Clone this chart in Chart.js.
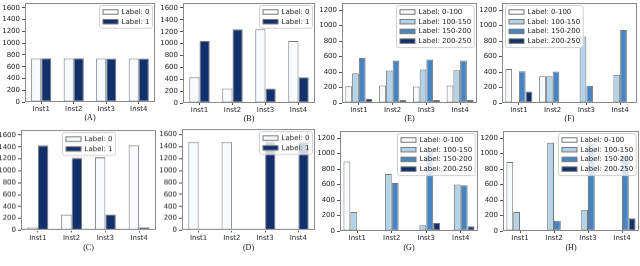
<!DOCTYPE html>
<html>
<head>
<meta charset="utf-8">
<script src="https://cdn.jsdelivr.net/npm/chart.js@4.4.1/dist/chart.umd.min.js"></script>
<style>
  html, body { margin: 0; padding: 0; background: #fff; width: 640px; height: 266px; overflow: hidden; }
  body { position: relative; }
  canvas { position: absolute; }
</style>
</head>
<body>
<script>
// categories and legend names
const instNames = ['Inst1', 'Inst2', 'Inst3', 'Inst4'];
const binaryLabels = ['Label: 0', 'Label: 1'];
const rangeLabels = ['Label: 0-100', 'Label: 100-150', 'Label: 150-200', 'Label: 200-250'];

// (A)
const aLabel0 = [740, 740, 740, 740];
const aLabel1 = [745, 745, 740, 738];
// (B)
const bLabel0 = [435, 245, 1240, 1045];
const bLabel1 = [1045, 1240, 245, 435];
// (C)
const cLabel0 = [50, 265, 1225, 1425];
const cLabel1 = [1425, 1220, 265, 50];
// (D)
const dLabel0 = [1480, 1480, 0, 0];
const dLabel1 = [0, 0, 1480, 1480];
// (E)
const eRange0 = [218, 227, 214, 227];
const eRange1 = [385, 420, 432, 424];
const eRange2 = [582, 548, 561, 548];
const eRange3 = [51, 38, 38, 38];
// (F)
const fRange0 = [441, 347, 0, 0];
const fRange1 = [0, 347, 860, 364];
const fRange2 = [412, 407, 223, 943];
const fRange3 = [150, 0, 0, 0];
// (G)
const gRange0 = [897, 0, 0, 0];
const gRange1 = [245, 737, 73, 600];
const gRange2 = [0, 621, 1030, 591];
const gRange3 = [0, 0, 103, 60];
// (H)
const hRange0 = [892, 0, 0, 0];
const hRange1 = [245, 1142, 276, 0];
const hRange2 = [0, 134, 1130, 975];
const hRange3 = [0, 0, 0, 164];

const binaryColors = ['#f7fbff', '#12306b'];
const rangeColors = ['#f7fbff', '#b3d3e9', '#4784c2', '#12306b'];
const edgeColor = '#777777';

const tickFont = { family: '"DejaVu Sans"', size: 7 };
const capFont = { family: '"Liberation Serif"', size: 8 };
const yAxisW = 30;
const padTop = 6;
const padRight = 3;

// plot-area boxes: [left, top, right, bottom] in page pixels
const panels = [
  { cap: '(A)', series: [aLabel0, aLabel1], names: binaryLabels, colors: binaryColors, yMax: 1680, box: [25, 3, 155, 102], legend: 'right', capGap: 16 },
  { cap: '(B)', series: [bLabel0, bLabel1], names: binaryLabels, colors: binaryColors, yMax: 1680, box: [183, 3, 315, 103], legend: 'right', capGap: 16 },
  { cap: '(E)', series: [eRange0, eRange1, eRange2, eRange3], names: rangeLabels, colors: rangeColors, yMax: 1290, box: [342, 3, 477, 103], legend: 'right', capGap: 16 },
  { cap: '(F)', series: [fRange0, fRange1, fRange2, fRange3], names: rangeLabels, colors: rangeColors, yMax: 1290, box: [502, 3, 637, 103], legend: 'left', capGap: 16 },
  { cap: '(C)', series: [cLabel0, cLabel1], names: binaryLabels, colors: binaryColors, yMax: 1680, box: [21, 130, 156, 230], legend: 'center', capGap: 17.5 },
  { cap: '(D)', series: [dLabel0, dLabel1], names: binaryLabels, colors: binaryColors, yMax: 1690, box: [182, 129, 315, 230], legend: 'right', capGap: 17.5 },
  { cap: '(G)', series: [gRange0, gRange1, gRange2, gRange3], names: rangeLabels, colors: rangeColors, yMax: 1290, box: [340, 131, 478, 231], legend: 'right', capGap: 17 },
  { cap: '(H)', series: [hRange0, hRange1, hRange2, hRange3], names: rangeLabels, colors: rangeColors, yMax: 1290, box: [503, 131, 639, 231], legend: 'right', capGap: 17 },
];

// frame around the plot area plus a matplotlib-style legend box inside it
const boxLegend = {
  id: 'boxLegend',
  afterDatasetsDraw(chart, args, opts) {
    const ctx = chart.ctx;
    const a = chart.chartArea;
    ctx.save();
    ctx.strokeStyle = '#8a8a8a';
    ctx.lineWidth = 1;
    ctx.strokeRect(Math.round(a.left) + 0.5, Math.round(a.top) + 0.5,
      Math.round(a.right - a.left) - 1, Math.round(a.bottom - a.top) - 1);

    ctx.font = '7px "DejaVu Sans"';
    const items = chart.data.datasets;
    const rowH = 9.7, handleW = 15, handleH = 4.5;
    const textW = Math.max(...items.map((d) => ctx.measureText(d.label).width));
    const w = 3.5 + handleW + 3.5 + textW + 3;
    const h = 13 + (items.length - 1) * rowH;
    let x;
    if (opts.corner === 'left') x = a.left + 3;
    else if (opts.corner === 'center') x = (a.left + a.right) / 2 - w / 2;
    else x = a.right - 3 - w;
    x = Math.round(x) + 0.5;
    const y = Math.round(a.top + 2) + 0.5;
    ctx.fillStyle = 'rgba(255,255,255,0.8)';
    ctx.strokeStyle = '#d0d0d0';
    ctx.beginPath();
    ctx.roundRect(x, y, w, h, 2);
    ctx.fill();
    ctx.stroke();
    ctx.textBaseline = 'middle';
    items.forEach((d, i) => {
      const cy = y + 6.5 + i * rowH;
      ctx.fillStyle = d.backgroundColor;
      ctx.strokeStyle = d.borderColor;
      ctx.fillRect(x + 3.5, cy - handleH / 2, handleW, handleH);
      ctx.strokeRect(x + 3.5, cy - handleH / 2, handleW, handleH);
      ctx.fillStyle = '#222';
      ctx.fillText(d.label, x + 3.5 + handleW + 3.5, cy);
    });
    ctx.restore();
  },
};

panels.forEach((p) => {
  const [left, top, right, bottom] = p.box;
  const xAxisH = p.capGap + 5;
  const canvas = document.createElement('canvas');
  const cw = right - left + yAxisW + padRight;
  const ch = bottom - top + padTop + xAxisH;
  canvas.width = cw;
  canvas.height = ch;
  canvas.style.width = cw + 'px';
  canvas.style.height = ch + 'px';
  canvas.style.left = (left - yAxisW) + 'px';
  canvas.style.top = (top - padTop) + 'px';
  document.body.appendChild(canvas);

  const wide = p.series.length > 2;
  new Chart(canvas.getContext('2d'), {
    type: 'bar',
    data: {
      labels: instNames,
      datasets: p.series.map((vals, i) => ({
        label: p.names[i],
        data: vals,
        backgroundColor: p.colors[i],
        borderColor: edgeColor,
        borderWidth: 1,
        borderSkipped: false,
        categoryPercentage: wide ? 0.8 : 0.62,
        barPercentage: 1,
      })),
    },
    options: {
      responsive: false,
      animation: false,
      devicePixelRatio: 1,
      layout: { padding: { top: padTop, right: padRight, left: 0, bottom: 0 } },
      plugins: {
        legend: { display: false },
        tooltip: { enabled: false },
        boxLegend: { corner: p.legend },
      },
      scales: {
        x: {
          grid: { display: true, drawOnChartArea: false, offset: false, tickLength: 2, color: '#555' },
          border: { display: false },
          ticks: { font: tickFont, color: '#222', padding: 1, maxRotation: 0 },
          title: { display: true, text: p.cap, font: capFont, color: '#111', padding: 0 },
          afterFit: (s) => { s.height = xAxisH; },
        },
        y: {
          min: 0,
          max: p.yMax,
          grid: { display: true, drawOnChartArea: false, tickLength: 3, color: '#555' },
          border: { display: false },
          ticks: {
            stepSize: 200,
            includeBounds: false,
            font: tickFont,
            color: '#222',
            padding: 2,
            callback: (v) => String(v),
          },
          afterBuildTicks: (s) => { s.ticks = s.ticks.filter((t) => t.value % 200 === 0); },
          afterFit: (s) => { s.width = yAxisW; },
        },
      },
    },
    plugins: [boxLegend],
  });
});
</script>
</body>
</html>
